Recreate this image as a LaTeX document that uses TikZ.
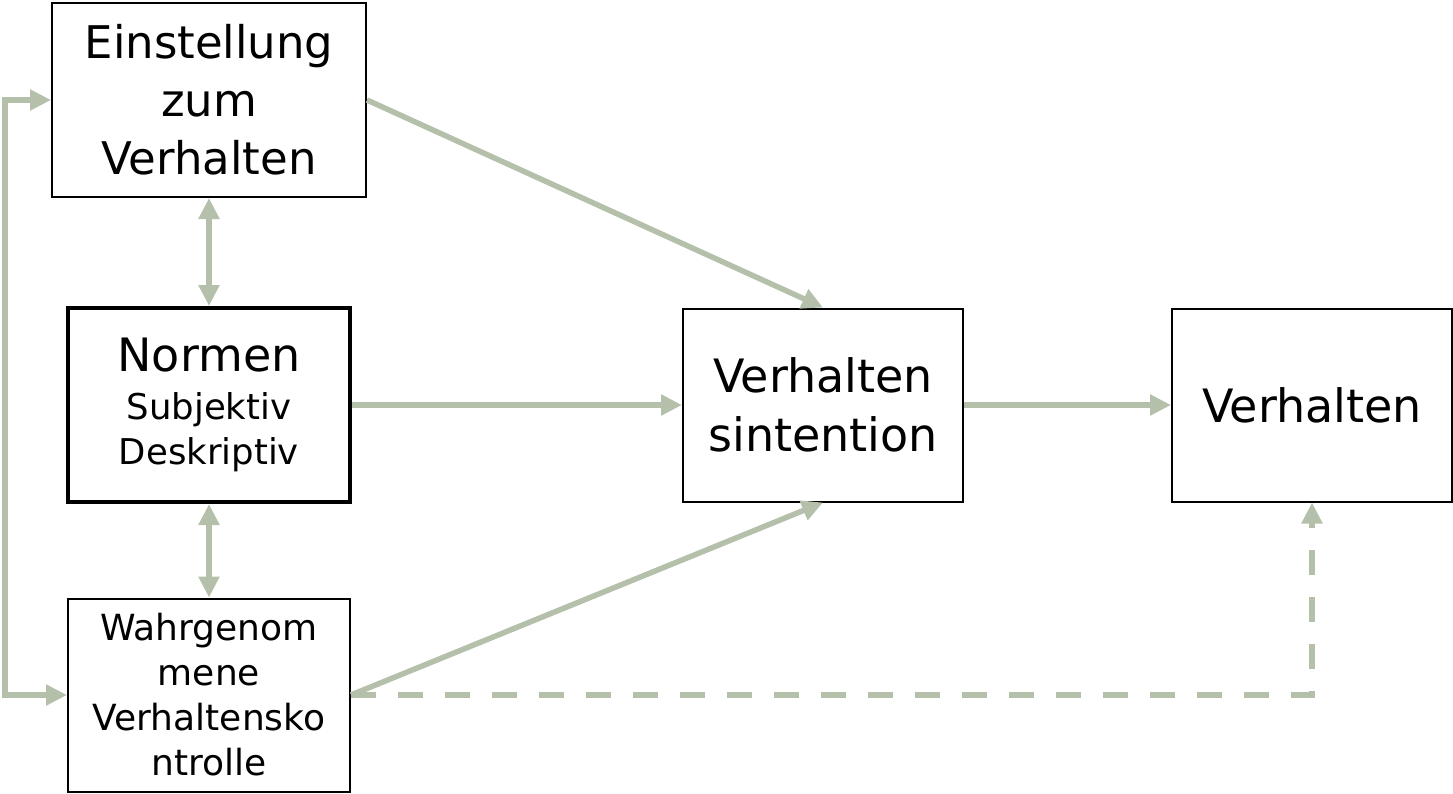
\documentclass[tikz,border=0pt]{standalone}
\usepackage{fontspec}
\setmainfont{DejaVu Sans}
\usetikzlibrary{arrows.meta}
\definecolor{arrcol}{RGB}{180,192,170}
\tikzset{
  box/.style={draw=black, line width=2pt, fill=white, align=center, inner sep=0pt, minimum width=#1, minimum height=194pt},
  arr/.style={draw=arrcol, line width=5.5pt, -{Triangle[length=21pt,width=20pt]}},
  darr/.style={draw=arrcol, line width=5.5pt, {Triangle[length=21pt,width=20pt]}-{Triangle[length=21pt,width=20pt]}},
  dasharr/.style={arr, dash pattern=on 25pt off 22pt},
}
\begin{document}
\begin{tikzpicture}[x=1pt,y=-1pt]
\useasboundingbox (0,0) rectangle (1453,793);
\node[box=314pt, font=\fontsize{45}{58}\selectfont] (E) at (209,100) {Einstellung\\zum\\Verhalten};
\node[box=282pt, line width=4pt, font=\fontsize{35.5}{45}\selectfont] (N) at (209,405) {{\fontsize{46}{50}\selectfont Normen}\\[3pt]Subjektiv\\Deskriptiv};
\node[box=282pt, minimum height=193pt, font=\fontsize{36}{45}\selectfont] (W) at (209,695) {Wahrgenom\\mene\\Verhaltensko\\ntrolle};
\node[box=280pt, minimum height=193pt, font=\fontsize{46}{59}\selectfont] (VI) at (823,405) {Verhalten\\sintention};
\node[box=280pt, minimum height=193pt, font=\fontsize{46}{59}\selectfont] (V) at (1312,405) {Verhalten};
\coordinate (lt) at (5,100);
\coordinate (lb) at (5,695);
\draw[darr] (E.west) -- (lt) -- (lb) -- (W.west);
\draw[darr] (E.south) -- (N.north);
\draw[darr] (N.south) -- (W.north);
\draw[arr] (E.east) -- (VI.north);
\draw[arr] (N.east) -- (VI.west);
\draw[arr] (W.east) -- (VI.south);
\draw[arr] (VI.east) -- (V.west);
\draw[dasharr] (W.east) -| (V.south);
\end{tikzpicture}
\end{document}
